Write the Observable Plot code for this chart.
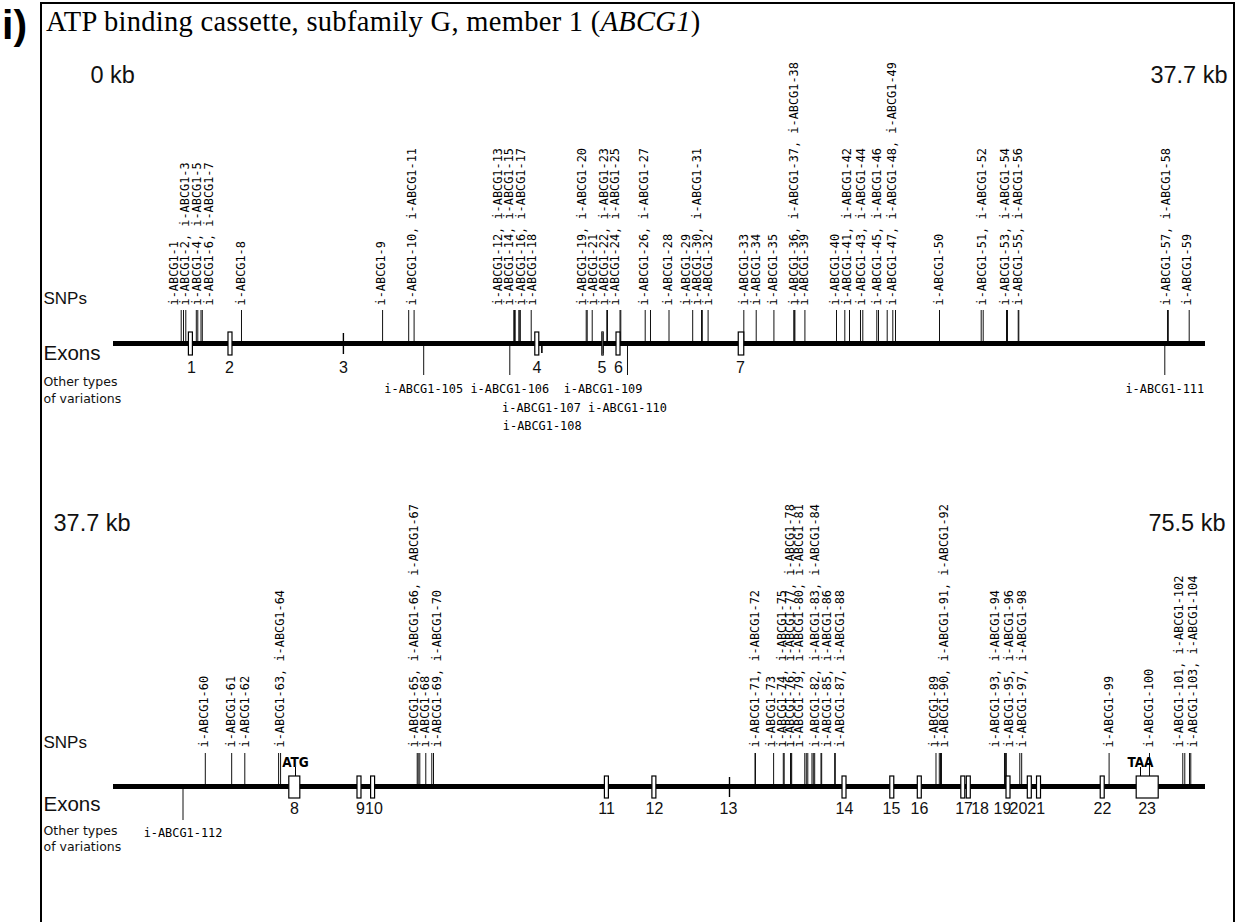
<!DOCTYPE html>
<html>
<head>
<meta charset="utf-8">
<script src="https://cdn.jsdelivr.net/npm/d3@7"></script>
<script src="https://cdn.jsdelivr.net/npm/@observablehq/plot@0.6"></script>
<style>
  html, body { margin: 0; padding: 0; background: #fff; }
  #page { position: relative; width: 1239px; height: 922px; overflow: hidden; background: #fff; }
  #frame { position: absolute; left: 40px; top: 2px; width: 1195px; height: 960px; border: 2px solid #000; border-bottom: none; box-sizing: border-box; }
  #panelLabel { position: absolute; left: 2px; top: 1px; font: bold 41px "Liberation Sans", Arial, sans-serif; line-height: 48px; }
  #title { position: absolute; left: 46px; top: 6px; font: 28.5px "Liberation Serif", "Times New Roman", serif; letter-spacing: 0.3px; line-height: 32px; white-space: nowrap; }
  .panel { position: absolute; left: 0; }
</style>
</head>
<body>
<div id="page">
  <div id="frame"></div>
  <div id="panelLabel">i)</div>
  <div id="title">ATP binding cassette, subfamily G, member 1 (<i>ABCG1</i>)</div>
  <div id="p1" class="panel" style="top:0px"></div>
  <div id="p2" class="panel" style="top:460px"></div>
</div>
<script>
// ---------------- DATA ----------------
// Genomic span of each row of the map (kb)
const rowStartKb = [0, 37.7];
const rowEndKb = [37.7, 75.5];
const rowStartLabel = ["0 kb", "37.7 kb"];
const rowEndLabel = ["37.7 kb", "75.5 kb"];

// Row 1: SNP positions (kb), i-ABCG1-1 ... i-ABCG1-59
const snpKbTop = [
  2.337, 2.417, 2.496, 2.859, 2.910, 3.021, 3.066, 4.419, 9.290, 10.191,
  10.378, 13.820, 13.844, 13.868, 13.993, 14.027, 14.044, 14.421, 16.320, 16.354,
  16.527, 17.031, 17.055, 17.487, 17.514, 18.356, 18.539, 19.178, 19.996, 20.300,
  20.328, 20.528, 21.761, 22.189, 22.800, 23.487, 23.504, 23.525, 23.870, 24.961,
  25.248, 25.410, 25.789, 25.869, 26.352, 26.411, 26.711, 26.905, 26.998, 28.517,
  29.956, 30.025, 30.830, 30.864, 31.234, 31.255, 36.388, 36.416, 37.137
];
// Row 1: SNP label columns (text) and where each column sits (kb)
const snpLabelTextTop = [
  "i-ABCG1-1", "i-ABCG1-2, i-ABCG1-3", "i-ABCG1-4, i-ABCG1-5", "i-ABCG1-6, i-ABCG1-7",
  "i-ABCG1-8", "i-ABCG1-9", "i-ABCG1-10, i-ABCG1-11",
  "i-ABCG1-12, i-ABCG1-13", "i-ABCG1-14, i-ABCG1-15", "i-ABCG1-16, i-ABCG1-17", "i-ABCG1-18",
  "i-ABCG1-19, i-ABCG1-20", "i-ABCG1-21", "i-ABCG1-22, i-ABCG1-23", "i-ABCG1-24, i-ABCG1-25",
  "i-ABCG1-26, i-ABCG1-27", "i-ABCG1-28", "i-ABCG1-29", "i-ABCG1-30, i-ABCG1-31", "i-ABCG1-32",
  "i-ABCG1-33", "i-ABCG1-34", "i-ABCG1-35", "i-ABCG1-36, i-ABCG1-37, i-ABCG1-38", "i-ABCG1-39",
  "i-ABCG1-40", "i-ABCG1-41, i-ABCG1-42", "i-ABCG1-43, i-ABCG1-44", "i-ABCG1-45, i-ABCG1-46",
  "i-ABCG1-47, i-ABCG1-48, i-ABCG1-49", "i-ABCG1-50", "i-ABCG1-51, i-ABCG1-52",
  "i-ABCG1-53, i-ABCG1-54", "i-ABCG1-55, i-ABCG1-56", "i-ABCG1-57, i-ABCG1-58", "i-ABCG1-59"
];
const snpLabelKbTop = [
  2.082, 2.468, 2.900, 3.314, 4.402, 9.252, 10.312,
  13.281, 13.671, 14.062, 14.448,
  16.181, 16.554, 16.927, 17.307,
  18.308, 19.161, 19.782, 20.162, 20.542,
  21.767, 22.181, 22.786, 23.487, 23.845,
  24.926, 25.341, 25.807, 26.359,
  26.884, 28.492, 29.991,
  30.795, 31.219, 36.354, 37.079
];
// Row 1: exons
const exonNameTop = ["1", "2", "3", "4", "5", "6", "7"];
const exonKbTop = [2.672, 4.039, 7.937, 14.631, 16.900, 17.435, 21.681];
const exonLenKbTop = [0.138, 0.138, 0, 0.138, 0.045, 0.138, 0.19];
const exonLabelKbTop = [2.693, 4.005, 7.941, 14.621, 16.865, 17.435, 21.647];
// Row 1: other types of variations
const otherVarNameTop = ["i-ABCG1-105", "i-ABCG1-106", "i-ABCG1-107", "i-ABCG1-108", "i-ABCG1-109", "i-ABCG1-110", "i-ABCG1-111"];
const otherVarKbTop = [10.709, 13.682, 14.776, 14.800, 16.900, 17.745, 36.295];

// Row 2: SNP positions (kb), i-ABCG1-60 ... i-ABCG1-104
const snpKbBottom = [
  40.878, 41.791, 42.245, 43.415, 43.484, 48.213, 48.247, 48.303, 48.510, 48.718,
  48.777, 59.906, 59.923, 60.550, 60.885, 60.916, 61.135, 61.155, 61.176, 61.629,
  61.681, 61.733, 61.878, 61.924, 61.972, 62.190, 62.214, 62.664, 62.685, 66.171,
  66.285, 66.327, 66.361, 68.542, 68.563, 68.584, 68.605, 69.072, 69.137, 72.163,
  73.561, 74.714, 74.783, 74.946, 74.991
];
const snpLabelTextBottom = [
  "i-ABCG1-60", "i-ABCG1-61", "i-ABCG1-62", "i-ABCG1-63, i-ABCG1-64",
  "i-ABCG1-65, i-ABCG1-66, i-ABCG1-67", "i-ABCG1-68", "i-ABCG1-69, i-ABCG1-70",
  "i-ABCG1-71, i-ABCG1-72", "i-ABCG1-73", "i-ABCG1-74, i-ABCG1-75",
  "i-ABCG1-76, i-ABCG1-77, i-ABCG1-78", "i-ABCG1-79, i-ABCG1-80, i-ABCG1-81",
  "i-ABCG1-82, i-ABCG1-83, i-ABCG1-84", "i-ABCG1-85, i-ABCG1-86", "i-ABCG1-87, i-ABCG1-88",
  "i-ABCG1-89", "i-ABCG1-90, i-ABCG1-91, i-ABCG1-92",
  "i-ABCG1-93, i-ABCG1-94", "i-ABCG1-95, i-ABCG1-96", "i-ABCG1-97, i-ABCG1-98",
  "i-ABCG1-99", "i-ABCG1-100", "i-ABCG1-101, i-ABCG1-102", "i-ABCG1-103, i-ABCG1-104"
];
const snpLabelKbBottom = [
  40.833, 41.767, 42.269, 43.457,
  48.095, 48.490, 48.905,
  59.923, 60.459, 60.840,
  61.117, 61.429,
  62.000, 62.405, 62.865,
  66.119, 66.465,
  68.231, 68.691, 69.155,
  72.152, 73.537, 74.575, 75.060
];
const exonNameBottom = ["8", "9", "10", "11", "12", "13", "14", "15", "16", "17", "18", "19", "20", "21", "22", "23"];
const exonKbBottom = [43.976, 46.215, 46.686, 54.779, 56.423, 59.023, 63.004, 64.658, 65.610, 67.116, 67.306, 68.681, 69.418, 69.737, 71.942, 73.499];
const exonLenKbBottom = [0.381, 0.138, 0.138, 0.138, 0.138, 0, 0.138, 0.138, 0.138, 0.138, 0.138, 0.138, 0.138, 0.138, 0.138, 0.762];
const exonLabelKbBottom = [43.965, 46.250, 46.717, 54.765, 56.427, 58.988, 63.004, 64.630, 65.600, 67.143, 67.697, 68.473, 69.027, 69.639, 71.934, 73.478];
const otherVarNameBottom = ["i-ABCG1-112"];
const otherVarKbBottom = [40.106];
// start / stop codons
const codonNameBottom = ["ATG", "TAA"];
const codonKbBottom = [44.000, 73.250];

// ---------------- DRAWING ----------------
const MONO = "DejaVu Sans Mono, monospace";
const SANS = "Liberation Sans, Arial, sans-serif";
const shortStems = new Set(["i-ABCG1-107", "i-ABCG1-108", "i-ABCG1-109"]);

function panel(cfg, L) {
  const start = cfg.start, end = cfg.end;
  const W = 1239, ML = 113, MR = 34;
  const pxPerKb = (W - ML - MR) / (end - start);
  const snps = cfg.snpKb.map(kb => ({kb}));
  const labels = cfg.labelText.map((t, i) => ({t, kb: cfg.labelKb[i]}));
  const exons = cfg.exonName.map((n, i) => ({n, kb: cfg.exonKb[i], len: cfg.exonLen[i], lab: cfg.exonLabelKb[i]}));
  const boxes = exons.filter(e => e.len > 0);
  const ticks = exons.filter(e => e.len === 0);
  const vars = cfg.otherName.map((n, i) => ({n, kb: cfg.otherKb[i]})).sort((a, b) => a.kb - b.kb);
  const rowEnds = [];
  for (const v of vars) {
    const w = v.n.length * 7.2, c = (v.kb - start) * pxPerKb;
    let r = 0;
    while (rowEnds[r] !== undefined && rowEnds[r] > c - w / 2 - 3) r++;
    rowEnds[r] = c + w / 2;
    v.row = r;
  }
  const codons = (cfg.codonName || []).map((n, i) => ({n, kb: cfg.codonKb[i]}));

  return Plot.plot({
    width: W, height: L.H,
    marginLeft: ML, marginRight: MR, marginTop: 0, marginBottom: 0,
    x: {domain: [start, end], axis: null},
    y: {domain: [0, L.H], range: [0, L.H], axis: null},
    style: {background: "transparent", overflow: "visible"},
    marks: [
      // kb extent labels
      Plot.text([{kb: start, t: cfg.startLabel}], {x: "kb", y: L.kbBase, text: "t", textAnchor: "start", dx: L.kbDxL, lineAnchor: "bottom", fontSize: 23.5, fontFamily: SANS, fill: "#111"}),
      Plot.text([{kb: end, t: cfg.endLabel}], {x: "kb", y: L.kbBase, text: "t", textAnchor: "end", dx: L.kbDxR, lineAnchor: "bottom", fontSize: 23.5, fontFamily: SANS, fill: "#111"}),
      // row captions
      Plot.text(["SNPs"], {frameAnchor: "left", dx: -70, y: L.snpsBase, text: d => d, textAnchor: "start", lineAnchor: "bottom", fontSize: 17, fontFamily: SANS, fill: "#111"}),
      Plot.text(["Exons"], {frameAnchor: "left", dx: -70, y: L.exonsBase, text: d => d, textAnchor: "start", lineAnchor: "bottom", fontSize: 20.5, fontFamily: SANS, fill: "#111"}),
      Plot.text(["Other types"], {frameAnchor: "left", dx: -70, y: L.otherBase1, text: d => d, textAnchor: "start", lineAnchor: "bottom", fontSize: 12.5, fontFamily: "DejaVu Sans, sans-serif", fill: "#111"}),
      Plot.text(["of variations"], {frameAnchor: "left", dx: -70, y: L.otherBase2, text: d => d, textAnchor: "start", lineAnchor: "bottom", fontSize: 12.5, fontFamily: "DejaVu Sans, sans-serif", fill: "#111"}),
      // SNP stems and labels
      Plot.ruleX(snps, {x: "kb", y1: L.stemTop, y2: L.lineY, stroke: "#111", strokeWidth: 1}),
      Plot.text(labels, {x: "kb", y: L.labBottom, text: "t", rotate: -90, textAnchor: "start", lineAnchor: "middle", fontSize: 11.9, fontFamily: MONO, fill: "#000"}),
      // other variations (below the line)
      Plot.ruleX(vars, {x: "kb", y1: L.lineY, y2: d => shortStems.has(d.n) ? L.varShortEnd : L.varLongEnd, stroke: "#111", strokeWidth: 1}),
      Plot.text(vars, {x: "kb", y: d => L.varBase[d.row], text: "n", textAnchor: "middle", lineAnchor: "bottom", fontSize: 11.9, fontFamily: MONO, fill: "#000"}),
      // gene backbone
      Plot.ruleY([start], {y: L.lineY, x1: start, x2: end, stroke: "#000", strokeWidth: 5}),
      // codon markers
      Plot.ruleX(codons, {x: "kb", y1: L.codonBase + 1, y2: L.boxTop, stroke: "#000", strokeWidth: 1}),
      Plot.text(codons, {x: "kb", y: L.codonBase, text: "n", textAnchor: "middle", lineAnchor: "bottom", fontSize: 13.5, fontWeight: "bold", fontFamily: "DejaVu Sans Condensed, DejaVu Sans, sans-serif", fill: "#000"}),
      // exons
      Plot.ruleX(ticks, {x: "kb", y1: L.boxTop + 1, y2: L.boxBot - 1, stroke: "#000", strokeWidth: 1.4}),
      Plot.rect(boxes, {x1: d => d.kb - d.len / 2, x2: d => d.kb + d.len / 2, y1: L.boxTop, y2: L.boxBot, fill: "white", stroke: "#000", strokeWidth: 1.2}),
      Plot.text(exons, {x: "lab", y: L.exLabBase, text: "n", textAnchor: "middle", lineAnchor: "bottom", fontSize: 16, fontFamily: SANS, fill: "#111"})
    ]
  });
}

const layoutTop = {
  H: 460, kbBase: 82, kbDxL: -23, kbDxR: 22,
  labBottom: 305, stemTop: 310, lineY: 343, boxTop: 332, boxBot: 355,
  exLabBase: 372, snpsBase: 303, exonsBase: 359, otherBase1: 385, otherBase2: 402,
  varLongEnd: 375, varShortEnd: 353, varBase: [392, 411, 429], codonBase: 307
};
const layoutBottom = {
  H: 462, kbBase: 70, kbDxL: -60, kbDxR: 20,
  labBottom: 287, stemTop: 293, lineY: 326, boxTop: 316, boxBot: 338,
  exLabBase: 353, snpsBase: 287, exonsBase: 350, otherBase1: 374, otherBase2: 390,
  varLongEnd: 360, varShortEnd: 334, varBase: [376, 395, 413], codonBase: 306
};

document.getElementById("p1").append(panel({
  start: rowStartKb[0], end: rowEndKb[0], startLabel: rowStartLabel[0], endLabel: rowEndLabel[0],
  snpKb: snpKbTop, labelText: snpLabelTextTop, labelKb: snpLabelKbTop,
  exonName: exonNameTop, exonKb: exonKbTop, exonLen: exonLenKbTop, exonLabelKb: exonLabelKbTop,
  otherName: otherVarNameTop, otherKb: otherVarKbTop
}, layoutTop));

document.getElementById("p2").append(panel({
  start: rowStartKb[1], end: rowEndKb[1], startLabel: rowStartLabel[1], endLabel: rowEndLabel[1],
  snpKb: snpKbBottom, labelText: snpLabelTextBottom, labelKb: snpLabelKbBottom,
  exonName: exonNameBottom, exonKb: exonKbBottom, exonLen: exonLenKbBottom, exonLabelKb: exonLabelKbBottom,
  otherName: otherVarNameBottom, otherKb: otherVarKbBottom,
  codonName: codonNameBottom, codonKb: codonKbBottom
}, layoutBottom));
</script>
</body>
</html>
